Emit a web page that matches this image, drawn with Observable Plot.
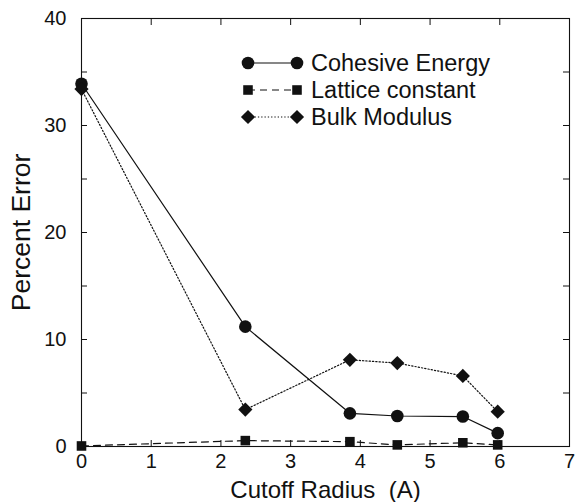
<!DOCTYPE html>
<html><head><meta charset="utf-8">
<script src="https://cdn.jsdelivr.net/npm/d3@7"></script>
<script src="https://cdn.jsdelivr.net/npm/@observablehq/plot@0.6"></script>
<style>
body{margin:0;background:#fff;}
#wrap{position:relative;width:579px;height:502px;}
#legend{position:absolute;left:0;top:0;pointer-events:none;}
</style></head><body><div id="wrap"></div>
<script>
const radius = [0, 2.35, 3.85, 4.53, 5.47, 5.97];
const cohesive = [33.9, 11.2, 3.1, 2.85, 2.8, 1.25];
const lattice = [0.05, 0.55, 0.45, 0.15, 0.35, 0.15];
const bulk = [33.4, 3.45, 8.1, 7.8, 6.6, 3.25];
const seriesNames = ["Cohesive Energy", "Lattice constant", "Bulk Modulus"];
const xTicks = [0, 1, 2, 3, 4, 5, 6, 7];
const yTicks = [0, 10, 20, 30, 40];
const yMinorTicks = [0, 5, 10, 15, 20, 25, 30, 35, 40];
const xTitle = "Cutoff Radius\u00a0 (A)";
const yTitle = "Percent Error";

const W = 579, H = 502, mL = 81, mR = 10, mT = 18, mB = 56;
const fw = W - mL - mR, fh = H - mT - mB;
const tk = 6;

const styles = [
  {values: cohesive, symbol: "circle", r: 6.3, dash: null},
  {values: lattice, symbol: "square", r: 5.4, dash: "7,5"},
  {values: bulk, symbol: "diamond2", r: 6.4, dash: "1.3,2"}
];
const series = styles.map((s, i) => ({...s, name: seriesNames[i],
  data: radius.map((x, j) => ({x, y: s.values[j]}))}));

const font = "'Liberation Sans', Arial, Helvetica, sans-serif";
const marks = [
  Plot.frame({stroke: "#111", strokeWidth: 1.1}),
  Plot.axisX({anchor: "bottom", ticks: xTicks, tickSize: 0, tickPadding: 7, fontSize: 20, label: null, tickFormat: d3.format("d")}),
  Plot.axisY({anchor: "left", ticks: yTicks, tickSize: 0, tickPadding: 15, fontSize: 20, label: null, tickFormat: d3.format("d")}),
  // inward ticks on all four sides
  Plot.tickX(xTicks, {x: d => d, insetTop: fh - tk, stroke: "#111"}),
  Plot.tickX(xTicks, {x: d => d, insetBottom: fh - tk - 1, stroke: "#111"}),
  Plot.tickY(yMinorTicks, {y: d => d, insetRight: fw - tk, stroke: "#111"}),
  Plot.tickY(yMinorTicks, {y: d => d, insetLeft: fw - tk, stroke: "#111"}),
  Plot.text([xTitle], {frameAnchor: "bottom", lineAnchor: "middle", textAnchor: "middle", dy: 43.5, fontSize: 24, fill: "#111"}),
  Plot.text([yTitle], {frameAnchor: "left", lineAnchor: "middle", textAnchor: "middle", dx: -60, rotate: -90, fontSize: 26.5, fill: "#111"})
];
for (const s of series) {
  marks.push(Plot.line(s.data, {x: "x", y: "y", stroke: "#111", strokeWidth: 1.2, strokeDasharray: s.dash}));
}
for (const s of series) {
  marks.push(Plot.dot(s.data, {x: "x", y: "y", symbol: s.symbol, r: s.r, fill: "#111", stroke: "none"}));
}

const chart = Plot.plot({
  width: W, height: H,
  marginLeft: mL, marginRight: mR, marginTop: mT, marginBottom: mB,
  style: {fontFamily: font, background: "#fff", color: "#111"},
  x: {domain: [0, 7]},
  y: {domain: [0, 40]},
  marks
});
const wrap = document.getElementById("wrap");
wrap.appendChild(chart);

// legend overlay
const lg = d3.select(wrap).append("svg").attr("id", "legend")
  .attr("width", W).attr("height", H)
  .style("font-family", font);
const rowY = [63, 90, 117];
series.forEach((s, i) => {
  const g = lg.append("g").attr("transform", `translate(0,${rowY[i]})`);
  g.append("line").attr("x1", 248).attr("x2", 297).attr("y1", 0).attr("y2", 0)
    .attr("stroke", "#111").attr("stroke-width", 1.2)
    .attr("stroke-dasharray", s.dash);
  const sym = s.symbol === "circle" ? d3.symbolCircle : s.symbol === "square" ? d3.symbolSquare : d3.symbolDiamond2;
  const path = d3.symbol(sym, Math.PI * s.r * s.r)();
  [248, 297].forEach(x => g.append("path").attr("d", path).attr("transform", `translate(${x},0)`).attr("fill", "#111"));
  g.append("text").attr("x", 311).attr("y", 0).attr("dy", "0.36em")
    .attr("font-size", 23.5).attr("fill", "#111").text(s.name);
});
</script></body></html>
